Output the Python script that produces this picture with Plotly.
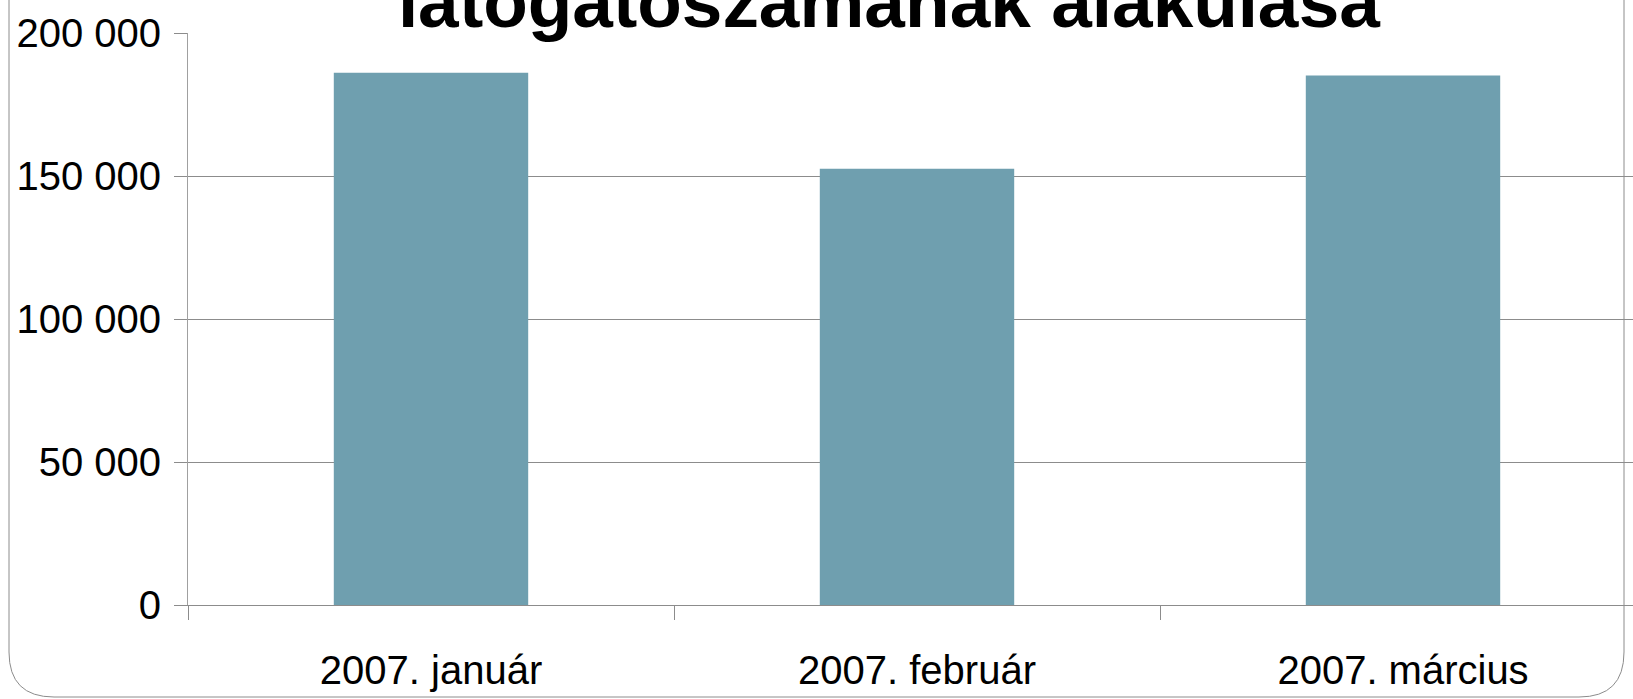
import plotly.graph_objects as go

# ---- data ----
categories = ["2007. január", "2007. február", "2007. március"]
visitors = [186100, 152500, 185100]
y_ticks = [0, 50000, 100000, 150000, 200000]
title_text = "látogatószámának alakulása"

W, H = 1633, 699
ML, MR, MT, MB = 188, 0, 33, 94
PW, PH = W - ML - MR, H - MT - MB

def px(x):
    return (x - ML) / PW

def py(y):
    return (H - MB - y) / PH

fig = go.Figure()
fig.add_trace(go.Bar(
    x=categories, y=visitors,
    marker=dict(color="#6F9FAF", line=dict(width=0)),
    width=0.4,
))

unit = 486.0
tick_font = dict(family="Liberation Sans Narrow, Arial Narrow, Liberation Sans, Arial", size=40, color="black")
fig.update_layout(
    width=W, height=H,
    margin=dict(l=ML, r=MR, t=MT, b=MB, pad=0, autoexpand=False),
    paper_bgcolor="white", plot_bgcolor="white",
    showlegend=False,
    separators=", ",
    font=tick_font,
    xaxis=dict(
        type="category",
        automargin=False,
        range=[-0.5, -0.5 + PW / unit],
        showgrid=False,
        showline=True, linecolor="#8C8C8C", linewidth=1,
        ticks="outside", ticklen=14, tickcolor="#8C8C8C", tickwidth=1,
        tickson="boundaries",
        ticklabelstandoff=30,
        tickfont=tick_font,
    ),
    yaxis=dict(
        automargin=False,
        range=[0, 200000],
        tickvals=y_ticks,
        tickformat=",d",
        showgrid=True, gridcolor="#8C8C8C", gridwidth=1,
        showline=True, linecolor="#A0A0A0", linewidth=1,
        ticks="outside", ticklen=13, tickcolor="#8C8C8C", tickwidth=1,
        ticklabelstandoff=5,
        zeroline=False,
        tickfont=tick_font,
    ),
    annotations=[dict(
        text=title_text, xref="paper", yref="paper",
        x=px(889), y=py(44), xanchor="center", yanchor="bottom",
        showarrow=False,
        font=dict(family="Liberation Sans, Arial", size=73, color="black", weight="bold"),
    )],
)

# rounded chart frame (decoration)
r = 45
xl, xr, yb = 9, 1624, 697
path = (f"M {px(xl)},{py(-20)} L {px(xl)},{py(yb - r)} "
        f"Q {px(xl)},{py(yb)} {px(xl + r)},{py(yb)} "
        f"L {px(xr - r)},{py(yb)} Q {px(xr)},{py(yb)} {px(xr)},{py(yb - r)} "
        f"L {px(xr)},{py(-20)}")
fig.add_shape(type="path", path=path, xref="paper", yref="paper",
              line=dict(color="#8C8C8C", width=1), layer="below")

fig.write_html(
    "out.html",
    config={"displayModeBar": False},
    post_script="document.documentElement.style.margin='0';document.body.style.margin='0';document.body.style.overflow='hidden';",
)
